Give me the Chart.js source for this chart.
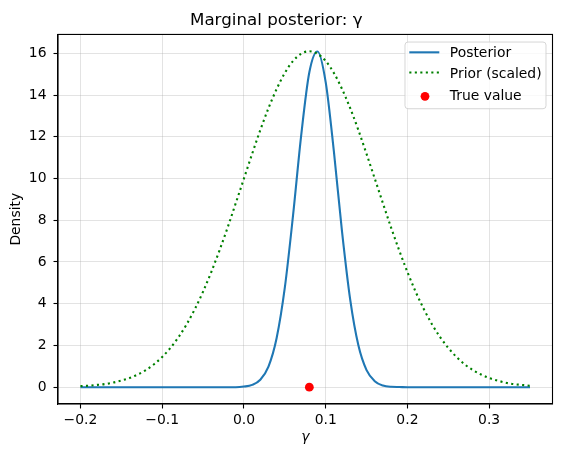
<!DOCTYPE html>
<html>
<head>
<meta charset="utf-8">
<script src="https://cdn.jsdelivr.net/npm/chart.js@4.4.1/dist/chart.umd.min.js"></script>
<style>
html,body{margin:0;padding:0;background:#fff;}
canvas{display:block;}
</style>
</head>
<body>
<canvas id="chart" width="563" height="458"></canvas>
<script>
// gamma grid (x) and the two density curves
const gammaGrid=[-0.20,-0.19,-0.18,-0.17,-0.16,-0.15,-0.14,-0.13,-0.12,-0.11,
    -0.10,-0.09,-0.08,-0.07,-0.06,-0.05,-0.04,-0.03,-0.02,-0.01,
    0.00,0.01,0.02,0.03,0.04,0.05,0.06,0.07,0.08,0.09,
    0.10,0.11,0.12,0.13,0.14,0.15,0.16,0.17,0.18,0.19,
    0.20,0.21,0.22,0.23,0.24,0.25,0.26,0.27,0.28,0.29,
    0.30,0.31,0.32,0.33,0.34,0.35];
const posteriorDensity=[0,0,0,0,0,0,0,0,0,0,
    0,0,0,0,0,0,0,0,0,0,
    0.03,0.11,0.36,0.99,2.36,4.77,8.21,12.06,15.09,16.09,
    14.62,11.31,7.46,4.20,2.01,0.82,0.29,0.08,0.02,0.01,
    0,0,0,0,0,0,0,0,0,0,
    0,0,0,0,0,0];
const priorDensity=[0.05,0.07,0.11,0.15,0.22,0.32,0.44,0.61,0.82,1.10,
    1.45,1.88,2.40,3.02,3.75,4.58,5.52,6.55,7.65,8.82,
    10.00,11.18,12.32,13.37,14.29,15.06,15.63,15.98,16.10,15.98,
    15.63,15.06,14.29,13.37,12.32,11.18,10.00,8.82,7.65,6.55,
    5.52,4.58,3.75,3.02,2.40,1.88,1.45,1.10,0.82,0.61,
    0.44,0.32,0.22,0.15,0.11,0.07];
const trueGamma=[0.08];
const trueDensity=[0];
const xTicks=[-0.2,-0.1,0.0,0.1,0.2,0.3];
const yTicks=[0,2,4,6,8,10,12,14,16];

const FONT="'DejaVu Sans', sans-serif";
const pairs=(xs,ys)=>xs.map((x,i)=>({x:x,y:ys[i]}));
const fmtX=v=>{const s=Number(v).toFixed(1);return s.replace('-','\u2212');};

// box around the axes (top + right spines) and the matplotlib-like legend
const framePlugin={
    id:'frame',
    afterDatasetsDraw(chart){
        const {ctx,chartArea:a}=chart;
        ctx.save();
        ctx.strokeStyle='#000';
        ctx.lineWidth=1.1;
        ctx.strokeRect(a.left,a.top,a.right-a.left,a.bottom-a.top);
        ctx.restore();
    }
};
const legendPlugin={
    id:'mplLegend',
    afterDraw(chart){
        const {ctx,chartArea:a}=chart;
        const w=141,h=66.7;
        const left=a.right-6.5-w, top=a.top+7.6;
        ctx.save();
        ctx.beginPath();
        ctx.roundRect(left,top,w,h,3);
        ctx.fillStyle='rgba(255,255,255,0.8)';
        ctx.fill();
        ctx.strokeStyle='rgba(204,204,204,0.8)';
        ctx.lineWidth=1;
        ctx.stroke();
        const rows=[{hy:10.3,ty:15.3},{hy:30.5,ty:36.0},{hy:54.3,ty:58.3}];
        chart.data.datasets.forEach((ds,i)=>{
            const r=rows[i];
            const y=top+r.hy;
            if(ds.type==='scatter'){
                ctx.beginPath();
                ctx.arc(left+20,y,ds.pointRadius,0,Math.PI*2);
                ctx.fillStyle=ds.backgroundColor;
                ctx.fill();
            }else{
                ctx.beginPath();
                ctx.setLineDash(ds.borderDash||[]);
                ctx.moveTo(left+4.3,y);
                ctx.lineTo(left+34.3,y);
                ctx.strokeStyle=ds.borderColor;
                ctx.lineWidth=ds.borderWidth;
                ctx.stroke();
                ctx.setLineDash([]);
            }
            ctx.fillStyle='#000';
            ctx.font='13.9px '+FONT;
            ctx.textBaseline='alphabetic';
            ctx.textAlign='left';
            ctx.fillText(ds.label,left+44.8,top+r.ty);
        });
        ctx.restore();
    }
};

new Chart(document.getElementById('chart'),{
    type:'line',
    data:{
        datasets:[
            {
                label:'Posterior',
                data:pairs(gammaGrid,posteriorDensity),
                borderColor:'#1f77b4',
                borderWidth:2.1,
                pointRadius:0,
                cubicInterpolationMode:'monotone',
                fill:false,
                order:2
            },
            {
                label:'Prior (scaled)',
                data:pairs(gammaGrid,priorDensity),
                borderColor:'#008000',
                borderWidth:2.1,
                borderDash:[2.1,3.4],
                pointRadius:0,
                cubicInterpolationMode:'monotone',
                fill:false,
                order:1
            },
            {
                type:'scatter',
                label:'True value',
                data:pairs(trueGamma,trueDensity),
                backgroundColor:'#ff0000',
                borderWidth:0,
                pointRadius:4.4,
                order:0
            }
        ]
    },
    options:{
        responsive:false,
        animation:false,
        layout:{padding:{left:0,right:10.5,top:0,bottom:0}},
        plugins:{
            legend:{display:false},
            tooltip:{enabled:false},
            title:{
                display:true,
                text:'Marginal posterior: \u03b3',
                color:'#000',
                font:{family:FONT,size:16.7,weight:'normal'},
                padding:{top:10.5,bottom:3.9}
            }
        },
        scales:{
            x:{
                type:'linear',
                min:-0.2275,
                max:0.3775,
                afterBuildTicks:s=>{s.ticks=xTicks.map(v=>({value:v}));},
                afterFit:s=>{s.height=54;},
                ticks:{
                    callback:fmtX,
                    autoSkip:false,
                    maxRotation:0,
                    color:'#000',
                    padding:4,
                    font:{family:FONT,size:13.9}
                },
                grid:{
                    color:'rgba(176,176,176,0.35)',
                    lineWidth:1,
                    tickColor:'#000',
                    tickLength:4.5,
                    tickWidth:1.1
                },
                border:{display:true,color:'#000',width:1.1},
                title:{
                    display:true,
                    text:'\u03b3',
                    color:'#000',
                    font:{family:FONT,size:13.9,style:'italic'},
                    padding:{top:0,bottom:12.2}
                }
            },
            y:{
                type:'linear',
                min:-0.805,
                max:16.905,
                afterBuildTicks:s=>{s.ticks=yTicks.map(v=>({value:v}));},
                afterFit:s=>{s.width=58;},
                ticks:{
                    callback:v=>String(v),
                    autoSkip:false,
                    color:'#000',
                    padding:7,
                    font:{family:FONT,size:13.9}
                },
                grid:{
                    color:'rgba(176,176,176,0.35)',
                    lineWidth:1,
                    tickColor:'#000',
                    tickLength:4.5,
                    tickWidth:1.1
                },
                border:{display:true,color:'#000',width:1.1},
                title:{
                    display:true,
                    text:'Density',
                    color:'#000',
                    font:{family:FONT,size:13.9},
                    padding:{top:7.6,bottom:0}
                }
            }
        }
    },
    plugins:[framePlugin,legendPlugin]
});
</script>
</body>
</html>
